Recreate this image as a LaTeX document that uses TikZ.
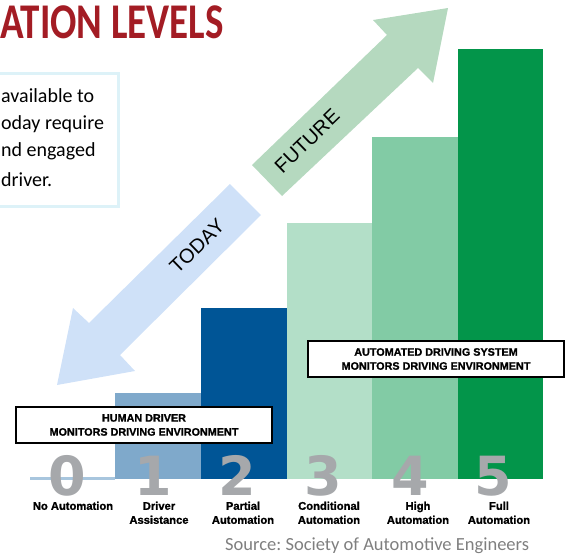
\documentclass[tikz,border=0pt]{standalone}
\usepackage{fontspec}
\setmainfont{Carlito}
\newfontfamily\armfont{Liberation Sans}
\newfontfamily\heavyfont{Liberation Sans Bold}[FakeBold=1.2]
\newfontfamily\digfont{DejaVu Sans}
\usetikzlibrary{positioning}

\definecolor{titlered}{HTML}{A31C24}
\definecolor{noteedge}{HTML}{DDF2F8}
\definecolor{todayblue}{HTML}{CFE1F8}
\definecolor{futuregreen}{HTML}{B5D9BF}
\definecolor{barzero}{HTML}{A8C6DE}
\definecolor{barone}{HTML}{7FA9CB}
\definecolor{bartwo}{HTML}{005596}
\definecolor{barthree}{HTML}{B3DFC8}
\definecolor{barfour}{HTML}{82CBA5}
\definecolor{barfive}{HTML}{03954A}
\definecolor{numgray}{HTML}{A6A8AB}
\definecolor{sourcegray}{HTML}{7F7F7F}

\tikzset{
levelnum/.style={font=\digfont\bfseries\fontsize{54}{54}\selectfont, text=numgray, inner sep=0pt, anchor=base},
levelname/.style={font=\heavyfont\fontsize{11.2}{14}\selectfont, align=center, inner sep=0pt, anchor=north},
monbox/.style={draw=black, line width=1.5pt, fill=white, minimum width=256pt, minimum height=36pt, inner sep=0pt, font=\heavyfont\fontsize{10.8}{14}\selectfont, align=center},
arrowword/.style={font=\armfont\fontsize{20}{20}\selectfont, rotate=44, inner sep=0pt},
noteline/.style={font=\fontsize{20}{20}\selectfont, inner sep=0pt, anchor=base west}
}

\begin{document}
\begin{tikzpicture}[x=1pt, y=-1pt]
\useasboundingbox (0,0) rectangle (566,557);

\node[font=\bfseries\fontsize{50}{50}\selectfont, text=titlered, inner sep=0pt, anchor=base west, xscale=0.78] (title) at (0,38) {ATION LEVELS};

\draw[noteedge, line width=3pt, fill=white] (-10,73) rectangle (118,206);
\node[noteline] (note1) at (1,102) {available to};
\node[noteline] (note2) at (1,129) {oday require};
\node[noteline] (note3) at (1,156) {nd engaged};
\node[noteline] (note4) at (1,186) {driver.};

\fill[todayblue] (230,184) -- (89,323) -- (73,308) -- (57,385) -- (135,371) -- (120,355) -- (261,215) -- cycle;
\fill[futuregreen] (252,165) -- (387,35) -- (373,20) -- (448,8) -- (433,83) -- (418,68) -- (282,196) -- cycle;
\node[arrowword] (today) at (197,246) {TODAY};
\node[arrowword] (future) at (307,141) {FUTURE};

\fill[barzero] (30,476.5) rectangle (115,479.5);
\foreach \name/\xa/\xb/\ytop in {barone/115/201/393, bartwo/201/287/308, barthree/287/372/223, barfour/372/458/137, barfive/458/543/49}
\fill[\name] (\xa,\ytop) rectangle (\xb,479);

\node[monbox] (human) at (144,425) {HUMAN DRIVER\\MONITORS DRIVING ENVIRONMENT};
\node[monbox] (system) at (436,359) {AUTOMATED DRIVING SYSTEM\\MONITORS DRIVING ENVIRONMENT};

\foreach \n/\x in {0/67,1/153,2/237,3/323,4/410,5/493}
\node[levelnum] (num\n) at (\x,495) {\n};

\node[levelname] (name0) at (73,501.5) {No Automation};
\node[levelname] (name1) at (159,501.5) {Driver\\Assistance};
\node[levelname] (name2) at (243,501.5) {Partial\\Automation};
\node[levelname] (name3) at (329,501.5) {Conditional\\Automation};
\node[levelname] (name4) at (418,501.5) {High\\Automation};
\node[levelname] (name5) at (499,501.5) {Full\\Automation};

\node[font=\frenchspacing\fontsize{18.5}{18.5}\selectfont, text=sourcegray, inner sep=0pt, anchor=base west] (source) at (225,550) {Source: Society of Automotive Engineers};
\end{tikzpicture}
\end{document}
